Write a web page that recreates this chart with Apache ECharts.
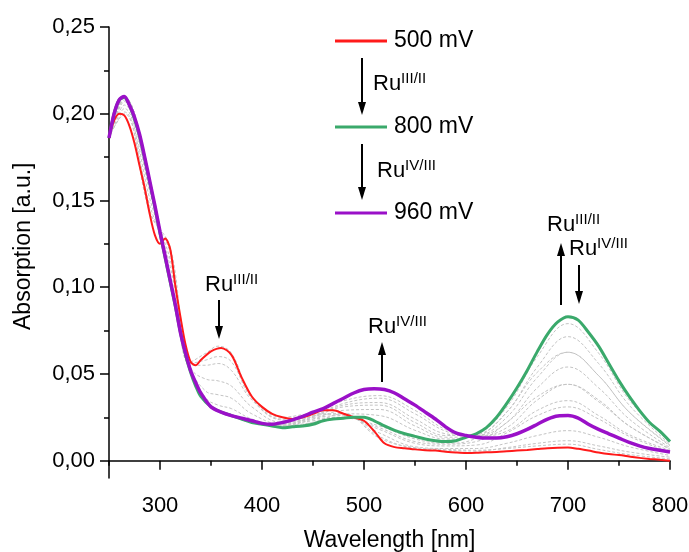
<!DOCTYPE html>
<html>
<head>
<meta charset="utf-8">
<script src="https://cdn.jsdelivr.net/npm/echarts@6/dist/echarts.min.js"></script>
<style>
  html, body { margin: 0; padding: 0; background: #fff; }
  #chart { width: 689px; height: 552px; }
</style>
</head>
<body>
<div id="chart"></div>
<script>
// wavelength grid of the three main spectra (nm)
const wl = [250, 255, 260, 265, 270, 275, 280, 285, 290, 295, 300, 305, 310, 315, 320, 325, 330, 335, 340, 350,
  360, 370, 380, 390, 400, 410, 420, 430, 440, 450, 460, 470, 480, 490, 500, 510, 520, 530, 540, 550,
  560, 570, 580, 590, 600, 610, 620, 630, 640, 650, 660, 670, 680, 690, 700, 710, 720, 730, 740, 750,
  760, 770, 780, 790, 800];

const red500 = [0.186, 0.196, 0.200, 0.199, 0.193, 0.183, 0.170, 0.157, 0.142, 0.130, 0.125, 0.128, 0.122, 0.101, 0.083, 0.067, 0.057, 0.055, 0.058, 0.063,
  0.065, 0.061, 0.048, 0.037, 0.031, 0.027, 0.025, 0.024, 0.025, 0.027, 0.029, 0.029, 0.027, 0.025, 0.023, 0.017, 0.010, 0.0078, 0.0072, 0.0065,
  0.0060, 0.0058, 0.0052, 0.0047, 0.0044, 0.0045, 0.0048, 0.0050, 0.0054, 0.0058, 0.0062, 0.0067, 0.0072, 0.0075, 0.0076, 0.0068, 0.0058, 0.0047, 0.0038, 0.0032,
  0.0024, 0.0016, 0.0010, 0.0005, 0.0];

const green800 = [0.186, 0.200, 0.208, 0.2095, 0.205, 0.197, 0.187, 0.174, 0.160, 0.146, 0.131, 0.117, 0.103, 0.089, 0.074, 0.061, 0.051, 0.043, 0.037, 0.031,
  0.028, 0.026, 0.024, 0.022, 0.021, 0.020, 0.019, 0.0195, 0.020, 0.021, 0.023, 0.024, 0.0245, 0.025, 0.025, 0.023, 0.020, 0.0175, 0.0155, 0.014,
  0.0125, 0.0115, 0.011, 0.0115, 0.0135, 0.0155, 0.019, 0.025, 0.033, 0.042, 0.052, 0.063, 0.073, 0.080, 0.083, 0.081, 0.074, 0.066, 0.056, 0.046,
  0.037, 0.029, 0.022, 0.017, 0.011];

const purple960 = [0.186, 0.200, 0.208, 0.210, 0.205, 0.198, 0.188, 0.175, 0.161, 0.147, 0.132, 0.118, 0.104, 0.090, 0.074, 0.062, 0.052, 0.045, 0.039, 0.031,
  0.028, 0.026, 0.0245, 0.023, 0.0215, 0.021, 0.022, 0.0235, 0.0255, 0.028, 0.030, 0.033, 0.036, 0.039, 0.041, 0.0415, 0.041, 0.039, 0.0355, 0.032,
  0.028, 0.024, 0.0195, 0.016, 0.0145, 0.0135, 0.013, 0.013, 0.0138, 0.0155, 0.018, 0.021, 0.024, 0.0258, 0.026, 0.0245, 0.021, 0.018, 0.0155, 0.013,
  0.0105, 0.0085, 0.007, 0.006, 0.005];

// intermediate spectra (grey), coarser wavelength grid
const gwl = [250, 265, 290, 310, 330, 345, 357, 370, 390, 420, 450, 480, 515, 550, 580, 610, 640, 670, 700, 730, 760, 800];
const greyA0 = [0.187, 0.200, 0.143, 0.123, 0.057, 0.062, 0.066, 0.062, 0.037, 0.025, 0.027, 0.027, 0.013, 0.0075, 0.0065, 0.006, 0.007, 0.0085, 0.0095, 0.0065, 0.0035, 0.001];
const greyA1 = [0.186, 0.201, 0.144, 0.120, 0.056, 0.058, 0.060, 0.057, 0.036, 0.024, 0.026, 0.027, 0.014, 0.007, 0.006, 0.0055, 0.0075, 0.010, 0.0115, 0.0085, 0.005, 0.002];
const greyA2 = [0.186, 0.203, 0.147, 0.116, 0.055, 0.055, 0.056, 0.052, 0.035, 0.0235, 0.025, 0.026, 0.016, 0.008, 0.007, 0.007, 0.010, 0.0145, 0.0173, 0.0135, 0.008, 0.003];
const greyA3 = [0.186, 0.205, 0.151, 0.112, 0.054, 0.047, 0.046, 0.043, 0.031, 0.022, 0.024, 0.025, 0.018, 0.010, 0.0085, 0.009, 0.016, 0.026, 0.031, 0.024, 0.014, 0.005];
const greyA4 = [0.186, 0.207, 0.155, 0.108, 0.053, 0.040, 0.038, 0.036, 0.027, 0.021, 0.023, 0.025, 0.019, 0.011, 0.0095, 0.011, 0.022, 0.037, 0.044, 0.035, 0.020, 0.007];
const greyA5 = [0.186, 0.208, 0.158, 0.105, 0.052, 0.036, 0.032, 0.030, 0.024, 0.020, 0.022, 0.0245, 0.020, 0.0125, 0.010, 0.013, 0.028, 0.051, 0.0625, 0.049, 0.028, 0.009];
const greyB1 = [0.186, 0.2095, 0.160, 0.103, 0.051, 0.034, 0.029, 0.026, 0.022, 0.0195, 0.022, 0.027, 0.026, 0.0175, 0.0125, 0.015, 0.031, 0.060, 0.079, 0.062, 0.035, 0.0105];
const greyB2 = [0.186, 0.2095, 0.160, 0.103, 0.051, 0.034, 0.029, 0.026, 0.022, 0.020, 0.024, 0.029, 0.0295, 0.020, 0.0135, 0.0148, 0.028, 0.054, 0.0715, 0.056, 0.032, 0.0095];
const greyB3 = [0.186, 0.2095, 0.160, 0.103, 0.051, 0.034, 0.029, 0.026, 0.022, 0.020, 0.025, 0.031, 0.032, 0.022, 0.0145, 0.0145, 0.025, 0.048, 0.0625, 0.049, 0.028, 0.0085];
const greyB4 = [0.186, 0.2095, 0.160, 0.103, 0.051, 0.034, 0.029, 0.026, 0.022, 0.0205, 0.0255, 0.032, 0.0335, 0.024, 0.0155, 0.0143, 0.022, 0.042, 0.054, 0.042, 0.024, 0.0075];
const greyB5 = [0.186, 0.2095, 0.160, 0.103, 0.051, 0.034, 0.029, 0.026, 0.022, 0.021, 0.026, 0.033, 0.036, 0.027, 0.017, 0.014, 0.019, 0.035, 0.044, 0.034, 0.020, 0.0065];
const greyB6 = [0.186, 0.2095, 0.160, 0.103, 0.051, 0.034, 0.029, 0.026, 0.022, 0.0215, 0.027, 0.0345, 0.0375, 0.029, 0.018, 0.014, 0.017, 0.029, 0.0346, 0.026, 0.015, 0.006];

const xLabels = [300, 400, 500, 600, 700, 800];
const xMinor = [250, 350, 450, 550, 650, 750];
const yLabels = [0, 0.05, 0.10, 0.15, 0.20, 0.25];
const yMinor = [0.025, 0.075, 0.125, 0.175, 0.225];

const FONT = "Liberation Sans, Arial, sans-serif";
const chart = echarts.init(document.getElementById("chart"), null, { renderer: "canvas" });

const pairs = (xs, ys) => xs.map((x, i) => [x, ys[i]]);

const greySeries = [greyA0, greyA1, greyA2, greyA3, greyA4, greyA5, greyB1, greyB2, greyB3, greyB4, greyB5, greyB6].map((g) => ({
  type: "line",
  data: pairs(gwl, g),
  smooth: 0.4,
  showSymbol: false,
  silent: true,
  lineStyle: { color: "#c4c4c4", width: 1, type: [3, 2] },
  z: 1,
}));

const mainLine = (data, color, width, z) => ({
  type: "line",
  data: pairs(wl, data),
  smooth: 0.3,
  showSymbol: false,
  silent: true,
  lineStyle: { color, width },
  z,
});

// superscript label, e.g. Ru^III/II
const ru = (x, y, sup) => ({
  type: "text",
  x, y,
  style: {
    text: "{b|Ru}{s|" + sup + "}",
    fill: "#000",
    verticalAlign: "middle",
    rich: {
      b: { fontSize: 22, fontFamily: FONT, fill: "#000", lineHeight: 26 },
      s: { fontSize: 15, fontFamily: FONT, fill: "#000", verticalAlign: "top", lineHeight: 26, padding: [0, 0, 8, 0] },
    },
  },
  z: 100,
});

// vertical arrow, head at y2
const arrow = (x, y1, y2) => {
  const dir = y2 > y1 ? 1 : -1;
  return [
    { type: "line", shape: { x1: x, y1: y1, x2: x, y2: y2 - dir * 10 }, style: { stroke: "#000", lineWidth: 2 }, z: 100 },
    { type: "polygon", shape: { points: [[x - 4, y2 - dir * 13], [x + 4, y2 - dir * 13], [x, y2]] }, style: { fill: "#000" }, z: 100 },
  ];
};

const legendItem = (y, color, width, label) => [
  { type: "line", shape: { x1: 335, y1: y, x2: 387, y2: y }, style: { stroke: color, lineWidth: width }, z: 100 },
  { type: "text", x: 394, y: y, style: { text: label, fontSize: 23, fontFamily: FONT, fill: "#000", verticalAlign: "middle" }, z: 100 },
];

const fmt = (v) => v.toFixed(2).replace(".", ",");

chart.setOption({
  animation: false,
  backgroundColor: "#fff",
  grid: { left: 109, right: 19, top: 27, bottom: 74, outerBoundsMode: "none", containLabel: false },
  xAxis: [
    {
      type: "value", min: 250, max: 800,
      name: "Wavelength [nm]", nameLocation: "middle", nameGap: 51,
      nameTextStyle: { fontSize: 23, fontFamily: FONT, color: "#000" },
      axisLine: { lineStyle: { color: "#000", width: 1.5 } },
      axisTick: { show: true, length: 9, lineStyle: { color: "#000", width: 1.5 }, customValues: xLabels },
      axisLabel: { fontSize: 22, fontFamily: FONT, color: "#000", margin: 17, customValues: xLabels },
      splitLine: { show: false },
    },
    {
      type: "value", min: 250, max: 800, position: "bottom",
      axisLine: { show: false },
      axisTick: { show: true, length: 5, lineStyle: { color: "#000", width: 1.5 }, customValues: xMinor },
      axisLabel: { show: false },
      splitLine: { show: false },
    },
  ],
  yAxis: [
    {
      type: "value", min: -0.01, max: 0.25,
      axisLine: { show: true, lineStyle: { color: "#000", width: 1.5 } },
      axisTick: { show: true, length: 9, lineStyle: { color: "#000", width: 1.5 }, customValues: yLabels },
      axisLabel: { fontSize: 22, fontFamily: FONT, color: "#000", margin: 14, formatter: fmt, customValues: yLabels },
      splitLine: { show: false },
    },
    {
      type: "value", min: -0.01, max: 0.25, position: "left",
      axisLine: { show: false },
      axisTick: { show: true, length: 5, lineStyle: { color: "#000", width: 1.5 }, customValues: yMinor },
      axisLabel: { show: false },
      splitLine: { show: false },
    },
  ],
  series: [
    ...greySeries,
    mainLine(red500, "#ff1a1a", 2, 3),
    mainLine(green800, "#3aa96b", 3, 4),
    mainLine(purple960, "#9a10c8", 3.5, 5),
  ],
  graphic: [
    {
      type: "text", x: 24, y: 330, rotation: Math.PI / 2,
      style: { text: "Absorption [a.u.]", fontSize: 23, fontFamily: FONT, fill: "#000", align: "left", verticalAlign: "middle" },
      z: 100,
    },
    ...legendItem(41, "#ff1a1a", 3, "500 mV"),
    ...legendItem(127, "#3aa96b", 3, "800 mV"),
    ...legendItem(213, "#9a10c8", 3, "960 mV"),
    ...arrow(362, 58, 115),
    ru(373, 84, "III/II"),
    ...arrow(362, 144, 200),
    ru(377, 171, "IV/III"),
    ru(205, 285, "III/II"),
    ...arrow(219, 300, 339),
    ru(368, 327, "IV/III"),
    ...arrow(382, 382, 342),
    ru(547, 225, "III/II"),
    ...arrow(561, 305, 243),
    ru(569, 249, "IV/III"),
    ...arrow(579, 265, 304),
  ],
});
</script>
</body>
</html>
